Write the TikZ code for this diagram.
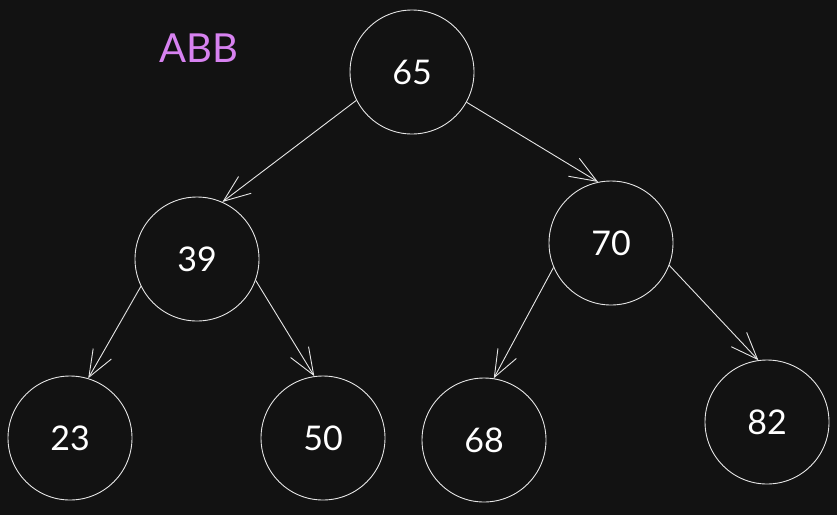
\documentclass[tikz,border=0pt]{standalone}
\usepackage{fontspec}
\setmainfont{Lato}
\usetikzlibrary{arrows.meta}
\definecolor{bgc}{HTML}{121212}
\definecolor{linec}{HTML}{E6E6E6}
\definecolor{titlec}{HTML}{D782F0}
\tikzset{
  bstnode/.style={circle, draw=linec, line width=0.9pt, minimum size=124pt, inner sep=0pt,
    text=white, font=\fontsize{34}{34}\selectfont},
  arr/.style={draw=linec, line width=0.9pt, -{Straight Barb[length=27pt,width=21pt,line width=0.9pt]}},
  titletext/.style={text=titlec, font=\fontsize{40}{40}\selectfont, inner sep=0pt}
}
\begin{document}
\begin{tikzpicture}[x=1pt,y=-1pt]
\fill[bgc] (0,0) rectangle (837,515);
\useasboundingbox (0,0) rectangle (837,515);
\node[titletext] (title) at (199,48) {ABB};
\node[bstnode] (n65) at (412,72) {65};
\node[bstnode] (n39) at (197,259) {39};
\node[bstnode] (n70) at (611,243) {70};
\node[bstnode] (n23) at (70,438) {23};
\node[bstnode] (n50) at (323,438) {50};
\node[bstnode] (n68) at (484,440) {68};
\node[bstnode] (n82) at (767,422) {82};
\draw[arr] (n65.207) -- (n39.66);
\draw[arr] (n65.331) -- (n70.102);
\draw[arr] (n39.206) -- (n23.73);
\draw[arr] (n39.340) -- (n50.98);
\draw[arr] (n70.203) -- (n68.81);
\draw[arr] (n70.339) -- (n82.98);
\end{tikzpicture}
\end{document}
